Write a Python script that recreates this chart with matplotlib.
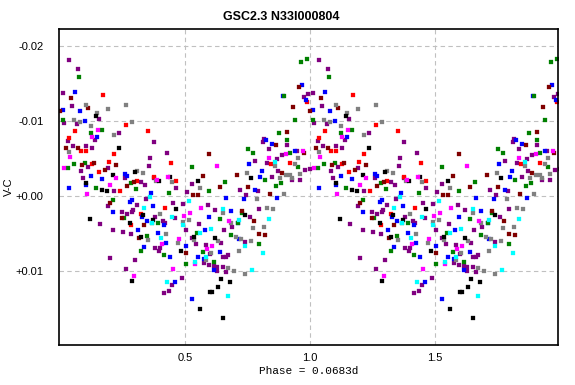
import numpy as np
import matplotlib
matplotlib.use('Agg')
import matplotlib.pyplot as plt

# phase-folded points per data set (colour), phase 0..1
purple_ph = [0.037, 0.073, 0.012, 0.049, 0.157, 0.017, 0.068, 0.14, 0.235, 0.032, 0.376, 0.053, 0.105, 0.129,
             0.428, 0.36, 0.111, 0.356, 0.192, 0.084, 0.092, 0.26, 0.375, 0.323, 0.341, 0.464,
             0.217, 0.345, 0.192, 0.309, 0.452, 0.493, 0.293, 0.289, 0.249, 0.269, 0.16, 0.459, 0.381, 0.413,
             0.421, 0.213, 0.253, 0.285, 0.504, 0.381, 0.4, 0.397, 0.201, 0.301, 0.264, 0.489, 0.449, 0.437, 0.417,
             0.993, 0.976, 0.816, 0.812, 0.908, 0.836, 0.889, 0.947, 0.869, 0.779, 0.829, 0.981, 0.999, 0.873,
             0.849, 0.927, 0.959, 0.529, 0.72,
             0.508, 0.745, 0.793, 0.592, 0.62, 0.797, 0.76, 0.689, 0.657, 0.556, 0.527, 0.644, 0.74, 0.545,
             0.585, 0.599, 0.672, 0.652, 0.665, 0.577, 0.597, 0.615, 0.628, 0.652, 0.628, 0.665]
purple_vc = [-0.0181, -0.0169, -0.0138, -0.012, -0.0103, -0.0097, -0.0096, -0.0075, -0.0084, -0.0074, -0.0072, -0.0067, -0.0067, -0.0064,
             -0.0057, -0.0051, -0.0039, -0.004, -0.0037, -0.0033, -0.0024, -0.0024, -0.0024, -0.0019, -0.0015, -0.0011,
             -0.0007, 0.0004, 0.0013, 0.0012, 0.0009, 0.0011, 0.0019, 0.0021, 0.0021, 0.0024, 0.0037, 0.0029, 0.0028, 0.0033,
             0.0036, 0.0046, 0.0048, 0.0051, 0.0045, 0.0069, 0.007, 0.0073, 0.0083, 0.0085, 0.0097, 0.0109, 0.0119, 0.0127, 0.0129,
             -0.0136, -0.0132, -0.0076, -0.0072, -0.0068, -0.0063, -0.0055, -0.006, -0.0049, -0.0047, -0.0044, -0.0035, -0.0036, -0.0033,
             -0.0025, -0.0021, -0.0021, -0.0016, -0.0008,
             -0.0005, -0.0001, -0.0007, 0.0012, 0.0019, 0.0017, 0.0028, 0.0041, 0.0045, 0.0037, 0.0056, 0.0063, 0.0061, 0.0064,
             0.0065, 0.0077, 0.0079, 0.0082, 0.0082, 0.0089, 0.0092, 0.0093, 0.0095, 0.0095, 0.01, 0.0101]

red_ph = [0.173, 0.265, 0.352, 0.06, 0.037, 0.085, 0.105, 0.217, 0.196, 0.445, 0.127, 0.155, 0.377, 0.465, 0.309,
          0.241, 0.42, 0.325, 0.285, 0.988, 0.845, 0.92]
red_vc = [-0.0135, -0.0095, -0.0087, -0.0087, -0.0078, -0.006, -0.006, -0.0056, -0.0045, -0.0044, -0.0043, -0.0032, -0.0025, -0.002, -0.002,
          -0.0006, 0.0016, 0.0024, 0.0039, -0.0125, -0.0043, -0.0044]

blue_ph = [0.061, 0.013, 0.081, 0.101, 0.148, 0.261, 0.124, 0.169, 0.268, 0.105, 0.037,
           0.364, 0.288, 0.28, 0.373, 0.213, 0.329, 0.349, 0.416, 0.312, 0.392, 0.425, 0.504, 0.336, 0.441, 0.46,
           0.968, 0.984, 0.824, 0.849, 0.939, 0.757, 0.808, 0.8, 0.78, 0.893,
           0.665, 0.737, 0.869, 0.685, 0.596, 0.58, 0.715, 0.639, 0.552, 0.575, 0.616, 0.529, 0.711]
blue_vc = [-0.0139, -0.0115, -0.0114, -0.01, -0.0079, -0.0029, -0.0027, -0.0023, -0.0027, -0.0015, -0.001,
           -0.0004, 0.0005, 0.0008, 0.0013, 0.0021, 0.0028, 0.0033, 0.0039, 0.0045, 0.0049, 0.0063, 0.0067, 0.0068, 0.0081, 0.0115,
           -0.0148, -0.0128, -0.0075, -0.0069, -0.006, -0.0043, -0.0033, -0.0025, -0.0008, -0.0133,
           0.0003, 0.0004, 0.0003, 0.002, 0.0028, 0.0045, 0.0057, 0.0075, 0.0082, 0.0084, 0.0099, 0.0137, 0.0036]

green_ph = [0.077, 0.012, 0.169, 0.124, 0.057, 0.101, 0.033, 0.283, 0.145, 0.304,
            0.436, 0.212, 0.257, 0.369, 0.392, 0.349, 0.325, 0.416, 0.504,
            0.989, 0.964, 0.896, 0.941, 0.877, 0.908, 0.753, 0.921, 0.772, 0.952, 0.528, 0.82, 0.884, 0.66, 0.865,
            0.596, 0.729, 0.641, 0.711, 0.548, 0.685, 0.797, 0.572, 0.616]
green_vc = [-0.0159, -0.0101, -0.0088, -0.0084, -0.0043, -0.0044, -0.0037, -0.0017, -0.001, -0.0009,
            -0.0004, 0.0005, 0.0029, 0.0036, 0.0036, 0.0053, 0.0073, 0.0079, 0.0091,
            -0.0183, -0.0179, -0.0133, -0.0101, -0.0084, -0.0075, -0.0063, -0.0057, -0.0057, -0.0039, -0.0039, -0.0021, -0.0017, -0.0019, -0.0013,
            -0.0006, 0.0023, 0.0031, 0.0036, 0.0049, 0.0052, 0.0064, 0.0075, 0.0088]

maroon_ph = [0.044, 0.113, 0.0, 0.025, 0.071, 0.137, 0.088, 0.225, 0.18, 0.296, 0.269,
             0.2, 0.248, 0.337, 0.316, 0.504,
             0.957, 0.932, 0.908, 0.865, 0.596, 0.977, 0.889, 0.708, 0.572, 0.641, 0.753,
             0.532, 0.552, 0.841, 0.729, 0.776, 0.796, 0.82]
maroon_vc = [-0.0131, -0.0117, -0.0114, -0.0064, -0.0064, -0.0044, -0.0041, -0.0041, -0.0035, -0.0019, -0.0013,
             0.0009, 0.0029, 0.0039, 0.0056, 0.0076,
             -0.0145, -0.0119, -0.0086, -0.0068, -0.0056, -0.0057, -0.0031, -0.0028, -0.0027, -0.0012, -0.0012,
             -0.0001, -0.0001, -0.0003, 0.002, 0.0033, 0.0051, 0.0052]

gray_ph = [0.105, 0.192, 0.264, 0.149, 0.056, 0.08, 0.125, 0.288, 0.217, 0.037, 0.309, 0.333, 0.383, 0.449,
           0.401, 0.424, 0.353, 0.472, 0.493,
           0.952, 0.861, 0.94, 0.749, 0.904, 0.921, 0.96, 0.88, 0.929, 0.56,
           0.896, 0.788, 0.828, 0.852, 0.517, 0.652, 0.683, 0.772, 0.816, 0.537, 0.705, 0.725, 0.631, 0.764,
           0.716, 0.604, 0.585, 0.673, 0.696, 0.74]
gray_vc = [-0.0122, -0.0116, -0.0122, -0.0111, -0.0101, -0.0099, -0.0094, -0.0099, -0.0081, -0.0059, -0.0033, -0.0031, -0.002, -0.0019,
           0.0024, 0.0051, 0.0059, 0.0063, 0.0035,
           -0.0051, -0.004, -0.0043, -0.0031, -0.0028, -0.0028, -0.0029, -0.0024, -0.0024, -0.001,
           -0.0003, 0.0004, 0.0016, 0.0017, 0.0032, 0.0023, 0.0036, 0.0043, 0.0041, 0.0059, 0.0055, 0.0057, 0.006, 0.006,
           0.0073, 0.0076, 0.0085, 0.0096, 0.01, 0.0104]

black_ph = [0.144, 0.236, 0.3, 0.213, 0.441, 0.397, 0.104, 0.169,
            0.188, 0.464, 0.12, 0.333, 0.373, 0.28, 0.325, 0.485, 0.288,
            0.552, 0.765,
            0.741, 0.535, 0.621, 0.645, 0.68, 0.633, 0.599, 0.609, 0.561, 0.653]
black_vc = [-0.0107, -0.0064, -0.0032, -0.0028, -0.0025, -0.002, -0.0017, -0.0008,
            -0.0006, 0.0017, 0.0031, 0.0025, 0.0032, 0.0036, 0.0055, 0.0073, 0.0113,
            -0.002, -0.0024,
            0.0025, 0.0055, 0.0056, 0.0111, 0.0115, 0.0121, 0.0128, 0.0128, 0.0151, 0.0163]

magenta_ph = [0.153, 0.128, 0.041, 0.016, 0.225, 0.431, 0.388, 0.201,
              0.109, 0.496, 0.476, 0.409, 0.452, 0.296,
              0.972, 0.905, 0.836, 0.628,
              0.564, 0.521, 0.676, 0.609, 0.588, 0.54]
magenta_vc = [-0.0088, -0.0079, -0.0052, -0.0037, -0.0024, -0.0025, -0.0021, -0.0014,
              -0.0003, 0.0027, 0.0057, 0.0064, 0.0097, 0.0107,
              -0.006, -0.0056, -0.0051, -0.004,
              0.0016, 0.0023, 0.0033, 0.0067, 0.0071, 0.0091]

cyan_ph = [0.36, 0.336, 0.449, 0.37, 0.405, 0.429, 0.493,
           0.859,
           0.516, 0.652, 0.716, 0.837, 0.605, 0.561, 0.74, 0.812, 0.585, 0.769, 0.54, 0.673]
cyan_vc = [0.0001, 0.0016, 0.0028, 0.0036, 0.0056, 0.0115, 0.0039,
           -0.0045,
           0.0007, 0.0017, 0.0032, 0.0031, 0.0044, 0.0049, 0.0067, 0.0076, 0.0081, 0.0099, 0.0088, 0.0133]

series = [
    (purple_ph, purple_vc, '#800080'),
    (red_ph, red_vc, '#ff0000'),
    (blue_ph, blue_vc, '#0000ff'),
    (green_ph, green_vc, '#008000'),
    (maroon_ph, maroon_vc, '#800000'),
    (gray_ph, gray_vc, '#808080'),
    (black_ph, black_vc, '#000000'),
    (magenta_ph, magenta_vc, '#ff00ff'),
    (cyan_ph, cyan_vc, '#00ffff'),
]

y_ticks = [-0.02, -0.01, 0.0, 0.01]
y_labels = ['-0.02', '-0.01', '+0.00', '+0.01']
x_ticks = [0.5, 1.0, 1.5]
x_labels = ['0.5', '1.0', '1.5']

plt.rcParams['font.family'] = ['Liberation Sans', 'DejaVu Sans']

fig = plt.figure(figsize=(5.75, 3.85), dpi=100)
ax = fig.add_axes([0.1026, 0.1039, 0.8678, 0.8208])

# two cycles: phase and phase + 1
for ph, vc, col in series:
    ph = np.asarray(ph)
    vc = np.asarray(vc)
    for shift in (0.0, 1.0):
        ax.plot(ph + shift, vc, linestyle='none', marker='s', ms=2.8,
                mfc=col, mec=col, mew=0.2)

ax.set_xlim(-0.004, 1.992)
ax.set_ylim(0.01987, -0.02227)

ax.set_xticks(x_ticks)
ax.set_xticklabels(x_labels, fontsize=8)
ax.set_yticks(y_ticks)
ax.set_yticklabels(y_labels, fontsize=8)
ax.tick_params(axis='y', length=0, pad=11)
ax.tick_params(axis='x', length=0, pad=6)
ax.grid(True, color='#c0c0c0', linestyle=(0, (4, 3)), linewidth=0.8)
ax.set_axisbelow(True)
for sp in ax.spines.values():
    sp.set_linewidth(1.2)

fig.text(0.489, 0.955, 'GSC2.3 N33I000804', fontsize=9, fontweight='bold',
         ha='center', va='center')
ax.set_ylabel('V-C', fontsize=8)
ax.yaxis.set_label_coords(-0.09, 0.5)
ax.set_xlabel('Phase = 0.0683d', fontsize=8, family='Liberation Mono', labelpad=2)

fig.savefig('out.png', dpi=100)
